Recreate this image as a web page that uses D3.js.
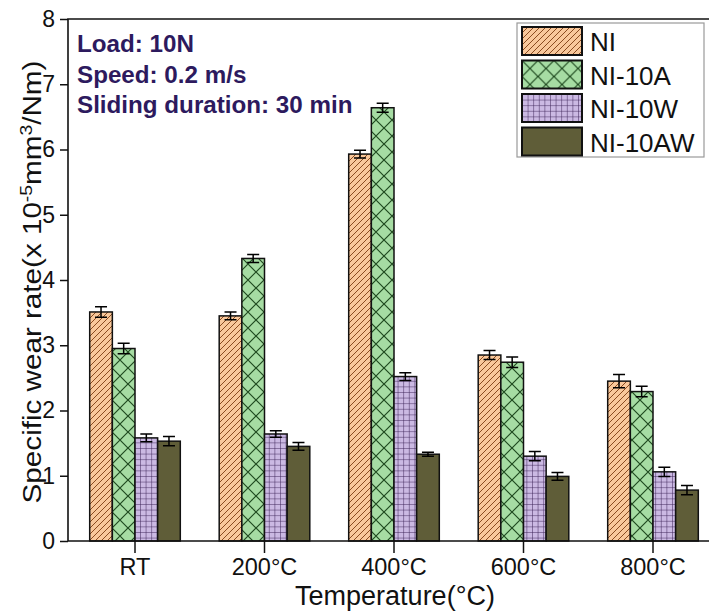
<!DOCTYPE html>
<html>
<head>
<meta charset="utf-8">
<script src="https://cdn.jsdelivr.net/npm/d3@7"></script>
<style>
body{margin:0;background:#fff}
svg{display:block;font-family:"Liberation Sans",Arial,sans-serif}
</style>
</head>
<body>
<svg></svg>
<script>
// wear rate data
var categories=["RT","200°C","400°C","600°C","800°C"];
var seriesNames=["NI","NI-10A","NI-10W","NI-10AW"];
var valuesNI=[3.51,3.45,5.93,2.85,2.45];
var valuesNI10A=[2.95,4.33,6.64,2.74,2.29];
var valuesNI10W=[1.58,1.64,2.52,1.30,1.06];
var valuesNI10AW=[1.53,1.45,1.33,0.99,0.78];
var errNI=[0.08,0.06,0.06,0.07,0.10];
var errNI10A=[0.08,0.06,0.07,0.08,0.08];
var errNI10W=[0.06,0.05,0.06,0.07,0.07];
var errNI10AW=[0.07,0.06,0.03,0.06,0.07];
var yTicks=[0,1,2,3,4,5,6,7,8];
var notes=["Load: 10N","Speed: 0.2 m/s","Sliding duration: 30 min"];

var svgWidth=709,svgHeight=614;
var plotLeft=68,plotTop=19,plotBottom=541;

var svg=d3.select("svg")
    .attr("width",svgWidth)
    .attr("height",svgHeight);

var allValues=[valuesNI,valuesNI10A,valuesNI10W,valuesNI10AW];
var allErr=[errNI,errNI10A,errNI10W,errNI10AW];
var fills=["url(#hatchNI)","url(#crossA)","url(#gridW)","#5f5d38"];

var rows=[];
categories.forEach(function(c,i){
    seriesNames.forEach(function(s,j){
        rows.push({cat:c,series:s,value:allValues[j][i],err:allErr[j][i],fill:fills[j]});
    });
});

// patterns
var defs=svg.append("defs");
var p1=defs.append("pattern").attr("id","hatchNI").attr("patternUnits","userSpaceOnUse")
    .attr("width",6).attr("height",6);
p1.append("rect").attr("width",6).attr("height",6).attr("fill","#f9c89b");
p1.append("path").attr("d","M0,6 L6,0 M-1,1 L1,-1 M5,7 L7,5")
    .attr("stroke","#8a4b20").attr("stroke-width",1);

var p2=defs.append("pattern").attr("id","crossA").attr("patternUnits","userSpaceOnUse")
    .attr("width",16).attr("height",16);
p2.append("rect").attr("width",16).attr("height",16).attr("fill","#a6dca3");
p2.append("path").attr("d","M0,0 L16,16 M16,0 L0,16")
    .attr("stroke","#1f4a1f").attr("stroke-width",1.2);

var p3=defs.append("pattern").attr("id","gridW").attr("patternUnits","userSpaceOnUse")
    .attr("width",5.6).attr("height",5.6);
p3.append("rect").attr("width",5.6).attr("height",5.6).attr("fill","#cbb9e3");
p3.append("path").attr("d","M0,0 H5.6 M0,0 V5.6")
    .attr("stroke","#3b2256").attr("stroke-width",1);

// scales
var yscale=d3.scaleLinear().domain([0,8]).range([plotBottom,plotTop]);
var xscale=d3.scaleBand().domain(categories).range([70.25,717.75]).padding(0);
var groupW=90.6;
var inner=d3.scaleBand().domain(seriesNames).range([0,groupW]);

function barX(d){
    return xscale(d.cat)+xscale.bandwidth()/2-groupW/2+inner(d.series);
}

// bars
svg.append("g").selectAll("rect")
    .data(rows)
    .enter()
    .append("rect")
    .attr("x",barX)
    .attr("y",function(d){return yscale(d.value);})
    .attr("width",inner.bandwidth())
    .attr("height",function(d){return plotBottom-yscale(d.value);})
    .attr("fill",function(d){return d.fill;})
    .attr("stroke","#111")
    .attr("stroke-width",1.5);

// error bars
svg.append("g").attr("stroke","#000").attr("stroke-width",1.5).attr("fill","none")
    .selectAll("path")
    .data(rows)
    .enter()
    .append("path")
    .attr("d",function(d){
        var cx=barX(d)+inner.bandwidth()/2;
        var y1=yscale(d.value+d.err),y2=yscale(d.value-d.err);
        return "M"+(cx-6)+","+y1+"H"+(cx+6)+"M"+cx+","+y1+"V"+y2+"M"+(cx-6)+","+y2+"H"+(cx+6);
    });

// axes
var yAxis=svg.append("g")
    .attr("transform","translate("+plotLeft+",0)")
    .call(d3.axisLeft(yscale).tickValues(yTicks).tickSize(8).tickSizeOuter(0).tickPadding(5));
yAxis.select(".domain").remove();
yAxis.selectAll("text").attr("font-size",23).attr("font-family","Liberation Sans, Arial, sans-serif").attr("fill","#111");
yAxis.selectAll("line").attr("stroke","#111").attr("stroke-width",1.5);

var xAxis=svg.append("g")
    .attr("transform","translate(0,"+plotBottom+")")
    .call(d3.axisBottom(xscale).tickSize(12).tickSizeOuter(0).tickPadding(5));
xAxis.select(".domain").remove();
xAxis.selectAll("text").attr("font-size",23.5).attr("font-family","Liberation Sans, Arial, sans-serif").attr("fill","#111");
xAxis.selectAll("line").attr("stroke","#111").attr("stroke-width",1.5);

// frame
svg.append("path")
    .attr("d","M"+svgWidth+","+plotTop+"H"+plotLeft+"V"+plotBottom+"H"+svgWidth)
    .attr("fill","none").attr("stroke","#111").attr("stroke-width",1.6);

// axis titles
svg.append("text")
    .attr("x",395).attr("y",605)
    .attr("text-anchor","middle")
    .attr("font-size",27).attr("fill","#111")
    .text("Temperature(°C)");

var yl=svg.append("text")
    .attr("transform","translate(41,282) rotate(-90) scale(1.14,1)")
    .attr("text-anchor","middle")
    .attr("font-size",26).attr("fill","#111");
yl.append("tspan").text("Specific wear rate(x 10");
yl.append("tspan").attr("baseline-shift","super").attr("font-size",17).text("-5");
yl.append("tspan").text("mm");
yl.append("tspan").attr("baseline-shift","super").attr("font-size",17).text("3");
yl.append("tspan").text("/Nm)");

// notes
svg.append("g").selectAll("text")
    .data(notes)
    .enter()
    .append("text")
    .attr("x",77)
    .attr("y",function(d,i){return 52+i*30.5;})
    .attr("font-size",24.2).attr("font-weight","bold").attr("fill","#2d1a5e")
    .text(function(d){return d;});

// legend
var lg=svg.append("g");
lg.append("rect").attr("x",517).attr("y",23).attr("width",187).attr("height",134)
    .attr("fill","#fff").attr("stroke","#9a9a9a").attr("stroke-width",1.2);
var li=lg.selectAll("g.item")
    .data(seriesNames)
    .enter()
    .append("g")
    .attr("transform",function(d,i){return "translate(522,"+(27+i*33.5)+")";});
li.append("rect").attr("width",60).attr("height",28)
    .attr("fill",function(d,i){return fills[i];})
    .attr("stroke","#111").attr("stroke-width",2);
li.append("text").attr("x",68).attr("y",24)
    .attr("font-size",26).attr("fill","#111")
    .text(function(d){return d;});
</script>
</body>
</html>
